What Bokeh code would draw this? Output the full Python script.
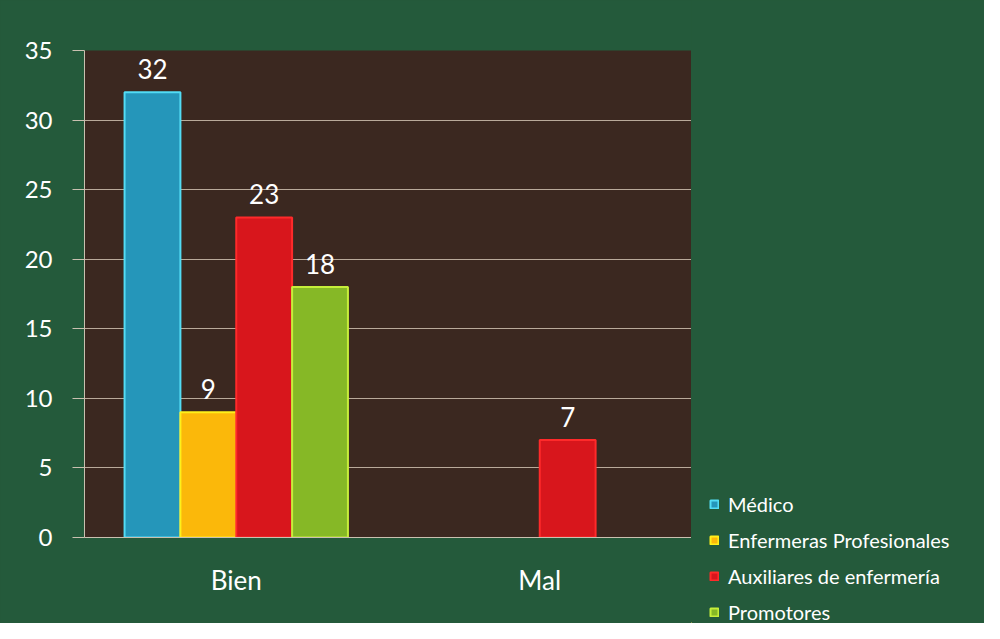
from bokeh.plotting import figure
from bokeh.models import ColumnDataSource, FactorRange, Legend, LegendItem
from bokeh.layouts import row, column
from bokeh.transform import dodge
from bokeh.core.properties import value
from bokeh.embed import file_html
from bokeh.resources import INLINE

categories = ["Bien", "Mal"]
series = ["Médico", "Enfermeras Profesionales", "Auxiliares de enfermería", "Promotores"]
medico = [32, 0]
enfermeras = [9, 0]
auxiliares = [23, 7]
promotores = [18, 0]
y_ticks = [0, 5, 10, 15, 20, 25, 30, 35]

values = [medico, enfermeras, auxiliares, promotores]
fills = ["#2596ba", "#fbb80a", "#d8161c", "#86b826"]
edges = ["#52dcf5", "#ffef1a", "#ff2a2a", "#c6ee3a"]
offsets = [-0.276, -0.092, 0.092, 0.276]
FONT = "Lato"
GREEN = "#245a3b"

H = 623
p = figure(x_range=FactorRange(*categories), y_range=(0, 35), width=691, height=H,
           output_backend="svg", toolbar_location=None,
           min_border_left=84, min_border_right=0, min_border_top=50, min_border_bottom=86)
p.background_fill_color = "#3b2820"
p.border_fill_color = GREEN
p.outline_line_color = None

for name, vals, fc, ec, off in zip(series, values, fills, edges, offsets):
    xs = [c for c, v in zip(categories, vals) if v > 0]
    ys = [v for v in vals if v > 0]
    src = ColumnDataSource(dict(x=xs, top=ys, lab=[str(v) for v in ys]))
    p.vbar(x=dodge("x", off, range=p.x_range), top="top", width=0.184, source=src,
           fill_color=fc, line_color=ec, line_width=2)
    p.text(x=dodge("x", off, range=p.x_range), y="top", text="lab", source=src,
           text_color="white", text_font=value(FONT), text_font_size="26px",
           text_align="center", text_baseline="bottom", y_offset=-13)

p.yaxis.ticker = y_ticks
p.ygrid.grid_line_color = "#b9aa9a"
p.ygrid.grid_line_width = 1
p.xgrid.grid_line_color = None
for ax in (p.xaxis, p.yaxis):
    ax.axis_line_color = "#c9c0b0"
    ax.major_tick_line_color = "#c9c0b0"
    ax.minor_tick_line_color = None
    ax.major_label_text_color = "white"
    ax.major_label_text_font = FONT
    ax.major_label_text_font_size = "24px"
p.xaxis.major_label_text_font_size = "26px"
p.yaxis.major_tick_out = 12
p.yaxis.major_tick_in = 0
p.yaxis.major_label_standoff = 20
p.xaxis.major_tick_out = 0
p.xaxis.major_tick_in = 0
p.xaxis.major_label_standoff = 26

# legend panel (separate figure to the right)
q = figure(width=293, height=H, output_backend="svg", toolbar_location=None,
           min_border=0, x_range=(0, 1), y_range=(0, 1))
q.axis.visible = False
q.grid.visible = False
q.outline_line_color = None
q.background_fill_color = GREEN
q.border_fill_color = GREEN
items = []
for name, fc, ec in zip(series, fills, edges):
    r = q.vbar(x=[-5], top=[-5], width=0.1, fill_color=fc, line_color=ec, line_width=2)
    items.append(LegendItem(label=name, renderers=[r]))
legend = Legend(items=items, location=(18, -1), orientation="vertical",
                label_text_color="white", label_text_font=FONT, label_text_font_size="20px",
                glyph_width=10, glyph_height=10, label_height=20, spacing=12,
                padding=0, margin=0, background_fill_alpha=0, border_line_color=None,
                label_standoff=9)
q.add_layout(legend, "center")

layout = row(p, column(q), spacing=0, styles={"background-color": GREEN})
open("out.html", "w").write(file_html(layout, INLINE))
